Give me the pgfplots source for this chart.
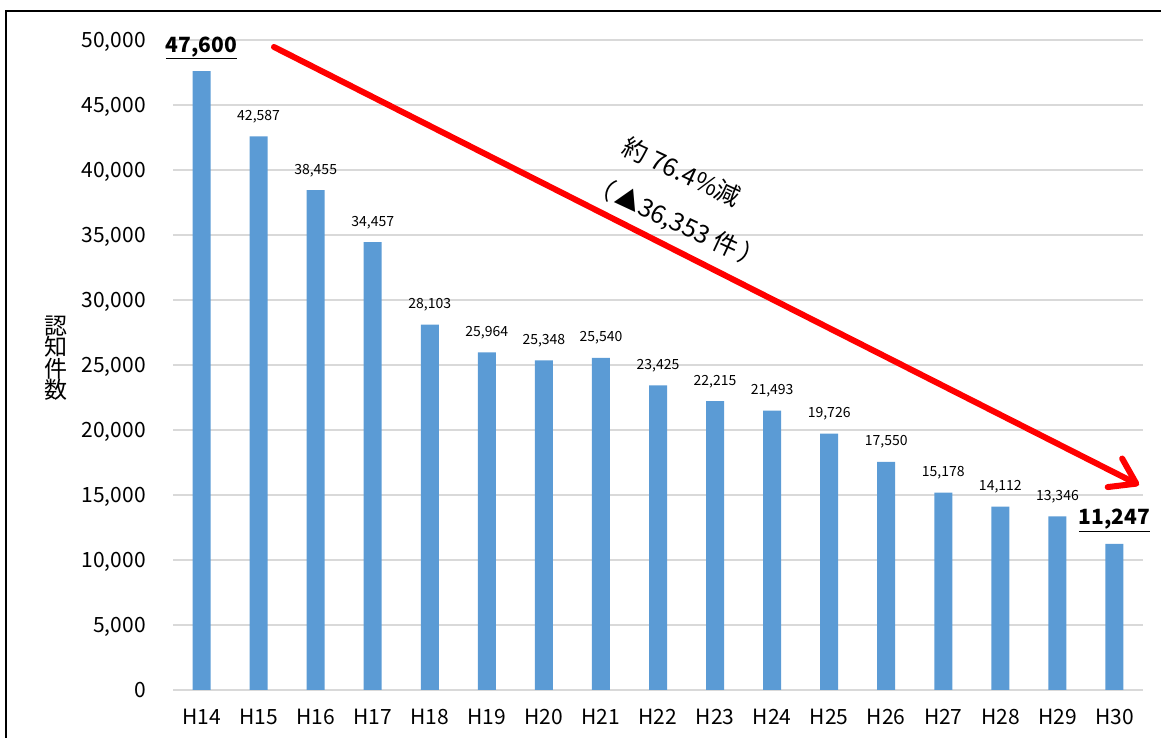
\documentclass[border=0pt]{standalone}
\usepackage{fontspec}
\setmainfont{Noto Sans CJK JP}
\usepackage{pgfplots}
\pgfplotsset{compat=1.18}
\usetikzlibrary{arrows.meta}
\definecolor{barblue}{RGB}{91,155,213}
\definecolor{gridgray}{RGB}{217,217,217}
\pgfplotsset{/pgf/number format/.cd, 1000 sep={,}, assume math mode=true}
\begin{document}
\begin{tikzpicture}
\useasboundingbox (0pt,0pt) rectangle (1161pt,738pt);
\begin{axis}[
  at={(173pt,48pt)}, anchor=south west,
  scale only axis, width=970pt, height=650pt,
  ybar, bar width=18pt, bar shift=0pt,
  xmin=-0.5, xmax=16.5, ymin=0, ymax=50000,
  xtick={0,...,16},
  xticklabels={H14,H15,H16,H17,H18,H19,H20,H21,H22,H23,H24,H25,H26,H27,H28,H29,H30},
  ytick={0,5000,...,50000},
  scaled y ticks=false,
  yticklabel style={/pgf/number format/fixed, /pgf/number format/1000 sep={,}, /pgf/number format/assume math mode=true, anchor=base east, inner sep=0pt, xshift=-27pt, yshift=-8pt, font=\fontsize{21}{25}\selectfont},
  xticklabel style={anchor=base, inner sep=0pt, yshift=-35pt, font=\fontsize{21}{25}\selectfont},
  major tick length=0pt,
  axis line style={draw=none},
  ymajorgrids, grid style={gridgray, line width=1.5pt},
  clip=false,
]
\addplot[fill=barblue, draw=none,
  nodes near coords,
  nodes near coords style={font=\fontsize{14}{16}\selectfont, anchor=base, inner sep=0pt, yshift=16pt, text=black}]
  coordinates {(1,42587) (2,38455) (3,34457) (4,28103) (5,25964) (6,25348) (7,25540) (8,23425) (9,22215) (10,21493) (11,19726) (12,17550) (13,15178) (14,14112) (15,13346)};
\addplot[fill=barblue, draw=none,
  nodes near coords={\underline{\textbf{\pgfmathprintnumber{\pgfplotspointmeta}}}},
  nodes near coords style={font=\fontsize{21}{25}\selectfont, anchor=base, inner sep=0pt, yshift=19pt, text=black}]
  coordinates {(0,47600) (16,11247)};
\end{axis}
\draw[line width=2.5pt] (6pt,-5pt) -- (6pt,727pt) -- (1170pt,727pt);
\node[inner sep=0pt, align=center, font=\fontsize{23}{21.5}\selectfont] at (56pt,380pt) {認\\知\\件\\数};
\draw[red, line width=6pt, line cap=round, -{Straight Barb[length=24pt,width=32pt,round]}] (274pt,691pt) -- (1139pt,253pt);
\node[rotate=-25, inner sep=0pt, font=\fontsize{25}{28}\selectfont] at (682pt,566pt) {約 76.4\%減};
\node[rotate=-25, inner sep=0pt, font=\fontsize{25}{28}\selectfont] at (677pt,515pt) {（\hspace{0.15em}▲36,353 件\hspace{0.15em}）};
\end{tikzpicture}
\end{document}
